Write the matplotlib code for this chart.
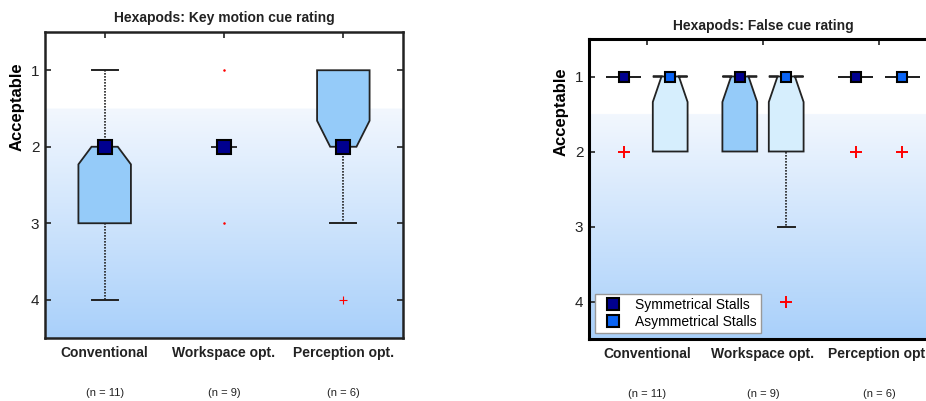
import numpy as np
import matplotlib
matplotlib.use("Agg")
import matplotlib.pyplot as plt
from matplotlib.colors import LinearSegmentedColormap
from matplotlib.lines import Line2D

plt.rcParams['font.family'] = ['Liberation Sans', 'DejaVu Sans']

categories = ["Conventional", "Workspace opt.", "Perception opt."]
n_counts = [11, 9, 6]

# key motion cue rating (left)
key_q1 = [2, 2, 1]
key_med = [2, 2, 2]
key_q3 = [3, 2, 2]
key_notch_lo = [2, 2, 1.66]
key_notch_hi = [2.23, 2, 2]
key_whis_lo = [1, 2, 1]
key_whis_hi = [4, 2, 3]
key_fliers = [[], [1, 3], [4]]
key_flier_marker = ['+', '.', '+']

# false cue rating (right), symmetrical / asymmetrical stalls
sym_q1 = [1, 1, 1]
sym_med = [1, 1, 1]
sym_q3 = [1, 2, 1]
sym_notch_hi = [1, 1.34, 1]
sym_whis_hi = [1, 2, 1]
sym_fliers = [[2], [], [2]]

asym_q1 = [1, 1, 1]
asym_med = [1, 1, 1]
asym_q3 = [2, 2, 1]
asym_notch_hi = [1.34, 1.34, 1]
asym_whis_hi = [2, 3, 1]
asym_fliers = [[], [4], [2]]

box_blue = '#95cbf9'
box_light = '#d6eefd'
navy = '#00008f'
blue = '#0a64f5'
ink = '#222222'

grad = LinearSegmentedColormap.from_list(
    'bg', [(0, '#a9d0fa'), (0.75, '#f2f7fe'), (0.7501, 'white'), (1, 'white')])


def background(ax):
    ax.imshow(np.linspace(0, 1, 256).reshape(-1, 1), cmap=grad, origin='lower',
              extent=[0, 1, 0, 1], transform=ax.transAxes, aspect='auto', zorder=0)


def draw_box(ax, pos, width, q1, med, q3, n_lo, n_hi, wlo, whi, fliers,
             face, mcolor, ms, keep_top, fl_marker, fl_ms, fl_mew):
    half = width / 2
    nh = width / 4
    pts = [(q1, half), (n_lo, half), (med, nh), (n_hi, half), (q3, half)]
    if not keep_top:
        pts = [p for i, p in enumerate(pts) if i == 2 or p[0] != med]
    xs = [pos - w for y, w in pts] + [pos + w for y, w in pts[::-1]]
    ys = [y for y, w in pts] + [y for y, w in pts[::-1]]
    ax.fill(xs, ys, facecolor=face, edgecolor=ink, lw=1.3, zorder=2)
    cap = width / 2
    if wlo < q1:
        ax.plot([pos, pos], [wlo, q1], ls=(0, (1, 0.8)), color=ink, lw=1.2, zorder=1.5)
        ax.plot([pos - cap / 2, pos + cap / 2], [wlo, wlo], color=ink, lw=1.4, zorder=2)
    if whi > q3:
        ax.plot([pos, pos], [q3, whi], ls=(0, (1, 0.8)), color=ink, lw=1.2, zorder=1.5)
        ax.plot([pos - cap / 2, pos + cap / 2], [whi, whi], color=ink, lw=1.4, zorder=2)
    if fliers:
        ax.plot([pos] * len(fliers), fliers, ls='none', marker=fl_marker, color='red',
                ms=fl_ms, mew=fl_mew, zorder=3)
    ax.plot([pos], [med], marker='s', ms=ms, mfc=mcolor, mec='black', mew=1.5, zorder=4)


def style_axes(ax, title, pad):
    ax.set_xlim(0.5, 3.5)
    ax.set_ylim(4.5, 0.5)
    ax.set_yticks([1, 2, 3, 4])
    ax.set_xticks([1, 2, 3])
    ax.set_xticklabels(categories, fontweight='bold', fontsize=10)
    ax.tick_params(axis='x', bottom=False, top=True, labelbottom=True, direction='in',
                   length=4, width=1.2, pad=6, colors=ink)
    ax.tick_params(axis='y', left=True, right=True, direction='in', length=4, width=1.2,
                   labelsize=11, pad=4, colors=ink)
    for s in ax.spines.values():
        s.set_linewidth(1.8)
        s.set_color(ink)
    ax.set_title(title, fontweight='bold', fontsize=10, pad=pad, color=ink)
    ax.set_ylabel('Acceptable', fontweight='bold', fontsize=12, color='black')
    for i, n in enumerate(n_counts):
        ax.annotate(f'(n = {n})', xy=(i + 1, 0), xycoords=('data', 'axes fraction'),
                    xytext=(0, -39.6), textcoords='offset points', ha='center', va='center',
                    fontsize=8, color=ink, annotation_clip=False)


fig = plt.figure(figsize=(9.26, 4.01), dpi=100)

ax1 = fig.add_axes([45 / 926, 63 / 401, 358 / 926, 306 / 401])
background(ax1)
for i in range(3):
    fl_ms = 6 if key_flier_marker[i] == '+' else 2
    draw_box(ax1, i + 1, 0.44, key_q1[i], key_med[i], key_q3[i], key_notch_lo[i],
             key_notch_hi[i], key_whis_lo[i], key_whis_hi[i], key_fliers[i],
             box_blue, navy, 9.5, False, key_flier_marker[i], fl_ms, 0.8)
style_axes(ax1, 'Hexapods: Key motion cue rating', 7)
ax1.yaxis.set_label_coords(-0.058, 0.755)

ax2 = fig.add_axes([589 / 926, 62 / 401, 348 / 926, 300 / 401])
background(ax2)
for i in range(3):
    draw_box(ax2, i + 1 - 0.2, 0.3, sym_q1[i], sym_med[i], sym_q3[i], sym_q1[i],
             sym_notch_hi[i], sym_q1[i], sym_whis_hi[i], sym_fliers[i],
             box_blue, navy, 7.5, True, '+', 9, 1.4)
    draw_box(ax2, i + 1 + 0.2, 0.3, asym_q1[i], asym_med[i], asym_q3[i], asym_q1[i],
             asym_notch_hi[i], asym_q1[i], asym_whis_hi[i], asym_fliers[i],
             box_light, blue, 7.5, True, '+', 9, 1.4)
style_axes(ax2, 'Hexapods: False cue rating', 6.5)
for s in ax2.spines.values():
    s.set_color('black')
    s.set_linewidth(2.2)
ax2.yaxis.set_label_coords(-0.058, 0.757)

handles = [Line2D([], [], ls='none', marker='s', ms=8, mfc=navy, mec='black', mew=1.5),
           Line2D([], [], ls='none', marker='s', ms=8, mfc=blue, mec='black', mew=1.5)]
leg = ax2.legend(handles, ['Symmetrical Stalls', 'Asymmetrical Stalls'], loc='lower left',
                 fontsize=10, fancybox=False, framealpha=1, edgecolor='#999999',
                 handlelength=2.0, handletextpad=0.6, borderpad=0.3, labelspacing=0.25,
                 borderaxespad=0.4)
leg.get_frame().set_linewidth(1.0)
leg.set_zorder(5)

fig.savefig('out.png', dpi=100)
